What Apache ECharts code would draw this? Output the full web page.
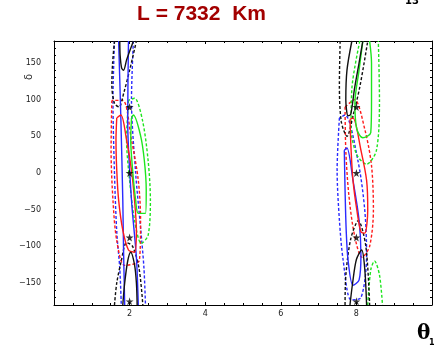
<!DOCTYPE html>
<html>
<head>
<meta charset="utf-8">
<script src="https://cdn.jsdelivr.net/npm/echarts@6/dist/echarts.min.js"></script>
<style>
  html, body { margin: 0; padding: 0; background: #fff; }
  #chart { width: 435px; height: 352px; }
</style>
</head>
<body>
<div id="chart"></div>
<script>
// contour curves, [theta13, delta] pairs
const blackSolid = [
  [[1.74, 180], [1.75, 160], [1.79, 143], [1.84, 140], [1.92, 154], [2.03, 170], [2.10, 180]],
  [[1.82, -180], [1.87, -150], [1.95, -120], [2.03, -108], [2.13, -125], [2.18, -150], [2.20, -180]],
  [[7.88, 180], [7.75, 140], [7.72, 100], [7.78, 78], [7.85, 80], [7.95, 115], [8.07, 150], [8.17, 180]],
  [[7.83, -180], [7.90, -150], [8.00, -118], [8.14, -105], [8.22, -130], [8.27, -180]]
];
const blackDashed = [
  [[1.60, 180], [1.55, 150], [1.53, 120], [1.60, 95], [1.72, 90], [1.85, 110], [2.00, 140], [2.18, 180]],
  [[1.60, -180], [1.66, -150], [1.78, -120], [1.92, -95], [2.08, -100], [2.25, -130], [2.35, -180]],
  [[7.57, 180], [7.55, 120], [7.60, 70], [7.75, 50], [7.92, 80], [8.10, 120], [8.30, 180]],
  [[7.70, -180], [7.72, -140], [7.85, -90], [8.05, -65], [8.25, -100], [8.35, -180]]
];
const blueSolid = [
  [[1.71, 180], [1.77, 72], [1.82, -37], [1.84, -105], [1.87, -180]],
  [[1.97, 180], [1.95, 72], [2.05, -37], [2.18, -115], [2.23, -180]],
  [[7.68, 31], [7.70, -23], [7.73, -78], [7.78, -119], [7.91, -153], [8.07, -146], [8.12, -112], [8.07, -64], [7.91, -10], [7.75, 34], [7.68, 31]]
];
const blueDashed = [
  [[1.60, 180], [1.56, 100], [1.60, 0], [1.66, -80], [1.74, -130], [1.78, -180]],
  [[2.10, 180], [2.05, 100], [2.16, 0], [2.30, -80], [2.38, -130], [2.42, -180]],
  [[7.55, 75], [7.49, 4], [7.55, -64], [7.65, -119], [7.86, -173], [8.12, -170], [8.27, -112], [8.22, -50], [8.04, 17], [7.70, 79], [7.55, 75]]
];
const redSolid = [
  [[1.66, 75], [1.64, 45], [1.66, 4], [1.71, -37], [1.82, -78], [1.97, -105], [2.13, -108], [2.18, -78], [2.13, -37], [2.05, 4], [1.92, 45], [1.77, 79], [1.66, 75]],
  [[7.83, 73], [7.86, 31], [7.91, -10], [8.01, -50], [8.12, -80], [8.22, -82], [8.30, -50], [8.27, -10], [8.12, 31], [7.91, 75], [7.83, 73]]
];
const redDashed = [
  [[1.53, 99], [1.51, 31], [1.56, -37], [1.66, -92], [1.87, -126], [2.26, -119], [2.29, -64], [2.23, -10], [2.05, 45], [1.82, 99], [1.53, 99]],
  [[7.70, 90], [7.72, 30], [7.80, -30], [7.95, -85], [8.15, -115], [8.35, -100], [8.45, -50], [8.40, 10], [8.22, 60], [7.95, 100], [7.70, 90]]
];
const greenSolid = [
  [[2.05, 75], [2.03, 45], [2.08, 4], [2.16, -37], [2.23, -55], [2.42, -55], [2.44, -23], [2.39, 17], [2.29, 51], [2.10, 79], [2.05, 75]],
  [[8.17, 180], [8.07, 140], [7.96, 95], [8.01, 60], [8.17, 48], [8.38, 55], [8.40, 100], [8.40, 150], [8.35, 180]]
];
const greenDashed = [
  [[1.97, 99], [1.92, 45], [2.00, -10], [2.13, -64], [2.31, -96], [2.49, -85], [2.55, -37], [2.49, 17], [2.34, 72], [2.13, 102], [1.97, 99]],
  [[8.09, 180], [7.88, 115], [7.86, 60], [8.01, 25], [8.27, 12], [8.53, 31], [8.61, 100], [8.58, 180]],
  [[8.30, -180], [8.38, -132], [8.48, -120], [8.61, -139], [8.69, -180]]
];
const bestFit = [[2, 90], [2, 0], [2, -88], [2, -175], [8, 90], [8, 0], [8, -88], [8, -175]];

const xLabels = [2, 4, 6, 8];
const yLabels = [-150, -100, -50, 0, 50, 100, 150];

const star = 'path://M50,0 L61,35 L98,35 L68,57 L79,91 L50,70 L21,91 L32,57 L2,35 L39,35 Z';

function curves(list, color, dashed) {
  return list.map((pts) => ({
    type: 'line',
    data: pts,
    showSymbol: false,
    smooth: 0.3,
    silent: true,
    lineStyle: { color, width: 1.4, type: dashed ? [3, 2] : 'solid' },
    z: dashed ? 2 : 3
  }));
}

const series = [
  ...curves(blueDashed, '#2a2aff', true),
  ...curves(redDashed, '#ff1a1a', true),
  ...curves(greenDashed, '#1ee61e', true),
  ...curves(blackDashed, '#111', true),
  ...curves(blueSolid, '#2a2aff', false),
  ...curves(redSolid, '#ff1a1a', false),
  ...curves(greenSolid, '#1ee61e', false),
  ...curves(blackSolid, '#111', false),
  {
    type: 'scatter',
    data: bestFit,
    symbol: star,
    symbolSize: 8,
    itemStyle: { color: '#000' },
    z: 5
  }
];

const tickFont = { fontFamily: 'DejaVu Sans', fontSize: 8, color: '#222' };
const fmt = (v) => (v < 0 ? '\u2212' + (-v) : String(v));

const frameLine = { onZero: false, lineStyle: { color: '#000', width: 1 } };

const chart = echarts.init(document.getElementById('chart'));
chart.setOption({
  animation: false,
  grid: { left: 54, top: 41, width: 384, height: 264 },
  xAxis: [
    {
      type: 'value', min: 0, max: 10, interval: 2, position: 'bottom',
      axisLine: frameLine,
      axisTick: { inside: true, length: 3, lineStyle: { color: '#000' } },
      minorTick: { show: true, splitNumber: 4, length: 2, lineStyle: { color: '#000' } },
      splitLine: { show: false },
      axisLabel: {
        ...tickFont, margin: 5,
        formatter: (v) => (xLabels.includes(v) ? String(v) : '')
      }
    },
    {
      type: 'value', min: 0, max: 10, interval: 2, position: 'top',
      axisLine: frameLine,
      axisTick: { inside: true, length: 3, lineStyle: { color: '#000' } },
      minorTick: { show: true, splitNumber: 4, length: 2, lineStyle: { color: '#000' } },
      splitLine: { show: false },
      axisLabel: { show: false }
    }
  ],
  yAxis: [
    {
      type: 'value', min: -180, max: 180, interval: 10, position: 'left',
      axisLine: { show: true, ...frameLine },
      axisTick: { show: true, inside: true, length: 2, lineStyle: { color: '#000' } },
      splitLine: { show: false },
      axisLabel: {
        ...tickFont, margin: 13,
        formatter: (v) => (yLabels.includes(v) ? fmt(v) : '')
      }
    },
    {
      type: 'value', min: -180, max: 180, interval: 10, position: 'right',
      axisLine: { show: true, ...frameLine },
      axisTick: { show: true, inside: true, length: 2, lineStyle: { color: '#000' } },
      splitLine: { show: false },
      axisLabel: { show: false }
    }
  ],
  series,
  graphic: [
    {
      type: 'text', left: 137, top: 4,
      style: { text: 'L = 7332  Km', fill: '#a30000', font: 'bold 21px "Liberation Sans", Arial, sans-serif' }
    },
    {
      type: 'text', left: 405, top: -4,
      style: { text: '13', fill: '#000', font: 'bold 10px "DejaVu Sans", sans-serif' }
    },
    {
      type: 'text', x: 24, y: 80, rotation: Math.PI / 2,
      style: { text: 'δ', fill: '#333', font: '10px "DejaVu Sans", sans-serif' }
    },
    {
      type: 'text', left: 417, top: 324,
      style: { text: 'θ', fill: '#000', font: 'bold 20px "DejaVu Serif", serif' }
    },
    {
      type: 'text', left: 429, top: 339,
      style: { text: '13', fill: '#000', font: 'bold 8px "DejaVu Sans", sans-serif' }
    }
  ]
});
</script>
</body>
</html>
